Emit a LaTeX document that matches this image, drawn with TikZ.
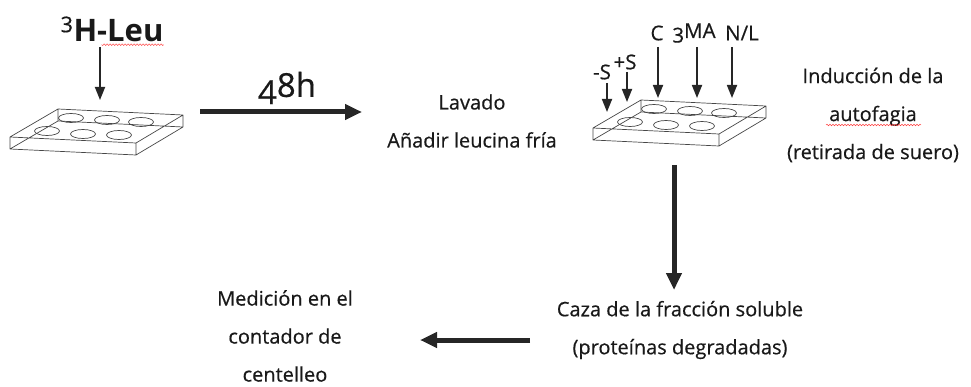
\documentclass[tikz,border=0pt]{standalone}
\usepackage{fontspec}
\setmainfont{Open Sans}
\newfontfamily\bodyfont{Open Sans}[FakeBold=0.5]
\usepackage{tikz}
\usetikzlibrary{arrows.meta}
\usetikzlibrary{decorations.pathmorphing}
\usetikzlibrary{positioning}

\newcommand{\lowfig}[1]{\raisebox{-0.22em}{#1}}

\tikzset{
	txt/.style={font=\bodyfont\fontsize{20}{38}\selectfont, align=center, inner sep=0pt, text=black!90},
	tag/.style={font=\bodyfont\fontsize{20.5}{20.5}\selectfont, inner sep=0pt, text=black!90},
	feed/.style={-{Triangle[length=13pt,width=10pt]}, line width=1.8pt, black!85},
	bigarrow/.style={-{Triangle[length=17pt,width=15pt]}, line width=5pt, black!85},
	squiggle/.style={red!75, line width=0.5pt, decorate, decoration={snake, amplitude=0.8pt, segment length=3pt}},
	edge line/.style={gray!55!black, line width=0.7pt, line join=round},
	plate/.pic={
		\draw[edge line]
			(0,0) -- (126,6) -- (173,-22) -- (48,-28) -- cycle
			(0,0) -- (0,12) -- (126,18) -- (126,6)
			(126,18) -- (173,-10) -- (173,-22)
			(0,12) -- (48,-16) -- (173,-10)
			(48,-16) -- (48,-28);
		\foreach \wx/\wy in {61/-19, 97/-17, 131/-15, 37/-6, 73/-3, 109/-2}
			\draw[edge line] (\wx,\wy) ellipse [x radius=12.5, y radius=4.5];
	}
}

\begin{document}
\begin{tikzpicture}[x=1pt,y=-1pt]
	\useasboundingbox (0,0) rectangle (971,387);
	\pic at (10,137) {plate};
	\pic at (593,128) {plate};
	\node[font=\fontsize{31}{31}\selectfont\bfseries, inner sep=0pt, text=black!90] (tracer) at (112,29) {\textsuperscript{\mdseries\bodyfont 3}H-Leu};
	\draw[squiggle] (tracer.south east) ++(0,3) -- ++(-62,0);
	\coordinate (tracerin) at (100,47);
	\coordinate (platein) at (100,100);
	\draw[feed] (tracerin) -- (platein);
	\coordinate (labelled) at (200,112);
	\coordinate (washed) at (362,112);
	\draw[bigarrow] (labelled) -- (washed);
	\node[font=\bodyfont\fontsize{33}{33}\selectfont, inner sep=0pt, text=black!90] (time) at (287,88) {\lowfig{4}8h};
	\node[txt] (wash) at (472,121) {Lavado\\Añadir leucina fría};
	\node[tag] (minus) at (602,72) {-S};
	\node[tag] (plus) at (625,62) {+S};
	\node[tag] (ctrl) at (657,33) {C};
	\node[tag] (ma) at (694,33) {\lowfig{3}MA};
	\node[tag] (nl) at (742,33) {N/L};
	\draw[feed] (607,83) coordinate (minusin) -- (607,112) coordinate (minusout);
	\draw[feed] (627,72) coordinate (plusin) -- (627,102) coordinate (plusout);
	\draw[feed] (658,47) coordinate (ctrlin) -- (658,98) coordinate (ctrlout);
	\draw[feed] (697,47) coordinate (main) -- (697,98) coordinate (maout);
	\draw[feed] (732,47) coordinate (nlin) -- (732,98) coordinate (nlout);
	\node[txt] (starve) at (873,115) {Inducción de la\\autofagia\\(retirada de suero)};
	\draw[squiggle] (826,125) -- (921,125);
	\coordinate (sampled) at (674,165);
	\coordinate (harvest) at (674,290);
	\draw[bigarrow] (sampled) -- (harvest);
	\node[txt] (chase) at (680,330) {Caza de la fracción soluble\\(proteínas degradadas)};
	\coordinate (sent) at (530,340);
	\coordinate (counted) at (420,340);
	\draw[bigarrow] (sent) -- (counted);
	\node[txt] (count) at (285,336) {Medición en el\\contador de\\centelleo};
\end{tikzpicture}
\end{document}
